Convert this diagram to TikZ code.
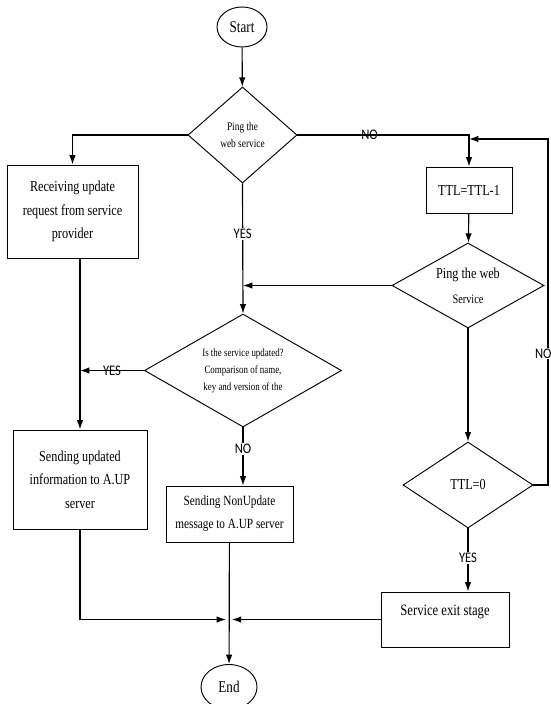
\documentclass[tikz,border=0pt]{standalone}
\usepackage{fontspec}
\setmainfont[FakeStretch=0.8]{Liberation Serif}
\newfontfamily\yesno[FakeStretch=0.86]{Carlito}
\usetikzlibrary{shapes.geometric,arrows.meta,calc}

\tikzset{
    box/.style = {draw, line width=0.8pt, rectangle, align=center, inner sep=2pt},
    decision/.style = {draw, line width=0.8pt, diamond, align=center, inner sep=0pt},
    terminal/.style = {draw, line width=0.8pt, ellipse, inner sep=0pt},
    flow/.style = {line width=1pt, -{Latex[length=8pt,width=5.5pt]}},
    link/.style = {line width=1pt},
    answer/.style = {font=\yesno\fontsize{12.5}{14}\selectfont, inner sep=1pt}
}

\begin{document}
\begin{tikzpicture}[x = 0.03cm, y = -0.03cm]
    \useasboundingbox (0,0) rectangle (550,704);

    % Start and end
    \node[terminal, minimum width=1.5cm, minimum height=1.2cm, font=\fontsize{14}{16}\selectfont] (start) at (242,27) {Start};
    \node[terminal, minimum width=1.68cm, minimum height=1.35cm, font=\fontsize{14}{16}\selectfont] (fin) at (229,687) {End};

    % Decisions
    \node[decision, shape aspect=1.13, minimum width=3.27cm, minimum height=2.88cm,
          font=\fontsize{10}{15}\selectfont] (ping) at (242.5,135) {Ping the\\web service};
    \node[decision, shape aspect=1.79, minimum width=4.56cm, minimum height=2.55cm,
          font=\fontsize{13}{21}\selectfont] (reping) at (468,285.5) {Ping the web\\{\fontsize{11}{21}\selectfont Service}};
    \node[decision, shape aspect=1.74, minimum width=5.91cm, minimum height=3.39cm,
          font=\fontsize{9.5}{14.5}\selectfont] (updated) at (243,370.5) {Is the service updated?\\Comparison of name,\\key and version of the};
    \node[decision, shape aspect=1.5, minimum width=3.9cm, minimum height=2.58cm,
          font=\fontsize{13}{16}\selectfont] (zero) at (468,485) {TTL=0};

    % Process boxes
    \node[box, minimum width=3.93cm, minimum height=2.79cm, font=\fontsize{13}{20}\selectfont] (recv) at (72.5,211.5) {Receiving update\\request from service\\provider};
    \node[box, minimum width=2.58cm, minimum height=1.38cm, font=\fontsize{13}{16}\selectfont] (ttl) at (469,190) {TTL=TTL-1};
    \node[box, minimum width=4.02cm, minimum height=2.97cm, font=\fontsize{13}{20}\selectfont] (sendup) at (80,479.5) {Sending updated\\information to A.UP\\server};
    \node[box, minimum width=3.81cm, minimum height=1.68cm, font=\fontsize{12}{19.5}\selectfont] (sendno) at (229.5,514) {Sending NonUpdate\\message to A.UP server};
    \node[box, minimum width=3.84cm, minimum height=1.65cm, text height=10pt, text depth=16pt,
          font=\fontsize{13.5}{16}\selectfont] (exit) at (445,619.5) {Service exit stage};

    % Helper points
    \coordinate (loop) at (548,139);
    \coordinate (merge) at (sendno.south |- exit.west);

    % Connectors
    \draw[flow] (start) -- (ping);
    \draw[flow] (ping.west) -| (recv.north);
    \draw[flow] (ping.east) -| node[answer, pos=0.21] {NO} (ttl.north);
    \draw[flow] (ping.south) -- node[answer, fill=white, pos=0.39] {YES} (updated.north);
    \draw[flow] (ttl) -- (reping);
    \draw[flow] (reping.west) -- (reping.west -| updated.north);
    \draw[flow] (reping) -- (zero);
    \draw[flow] (zero.east) -| node[answer, fill=white, pos=0.69, xshift=-4pt] {NO} (loop) -- (loop -| ttl.north);
    \draw[flow] (updated.west) -- node[answer, pos=0.5] {YES} (updated.west -| sendup.north);
    \draw[flow] (recv.south -| sendup.north) -- (sendup.north);
    \draw[flow] (updated.south) -- node[answer, fill=white, pos=0.37] {NO} (updated.south |- sendno.north);
    \draw[flow] (zero.south) -- node[answer, fill=white, pos=0.47] {YES} (zero.south |- exit.north);
    \draw[flow] (sendno) -- (fin);
    \draw[flow] (sendup.south) |- ([xshift=-3pt]merge);
    \draw[flow] (exit.west) -- ([xshift=2pt]merge);

\end{tikzpicture}
\end{document}
